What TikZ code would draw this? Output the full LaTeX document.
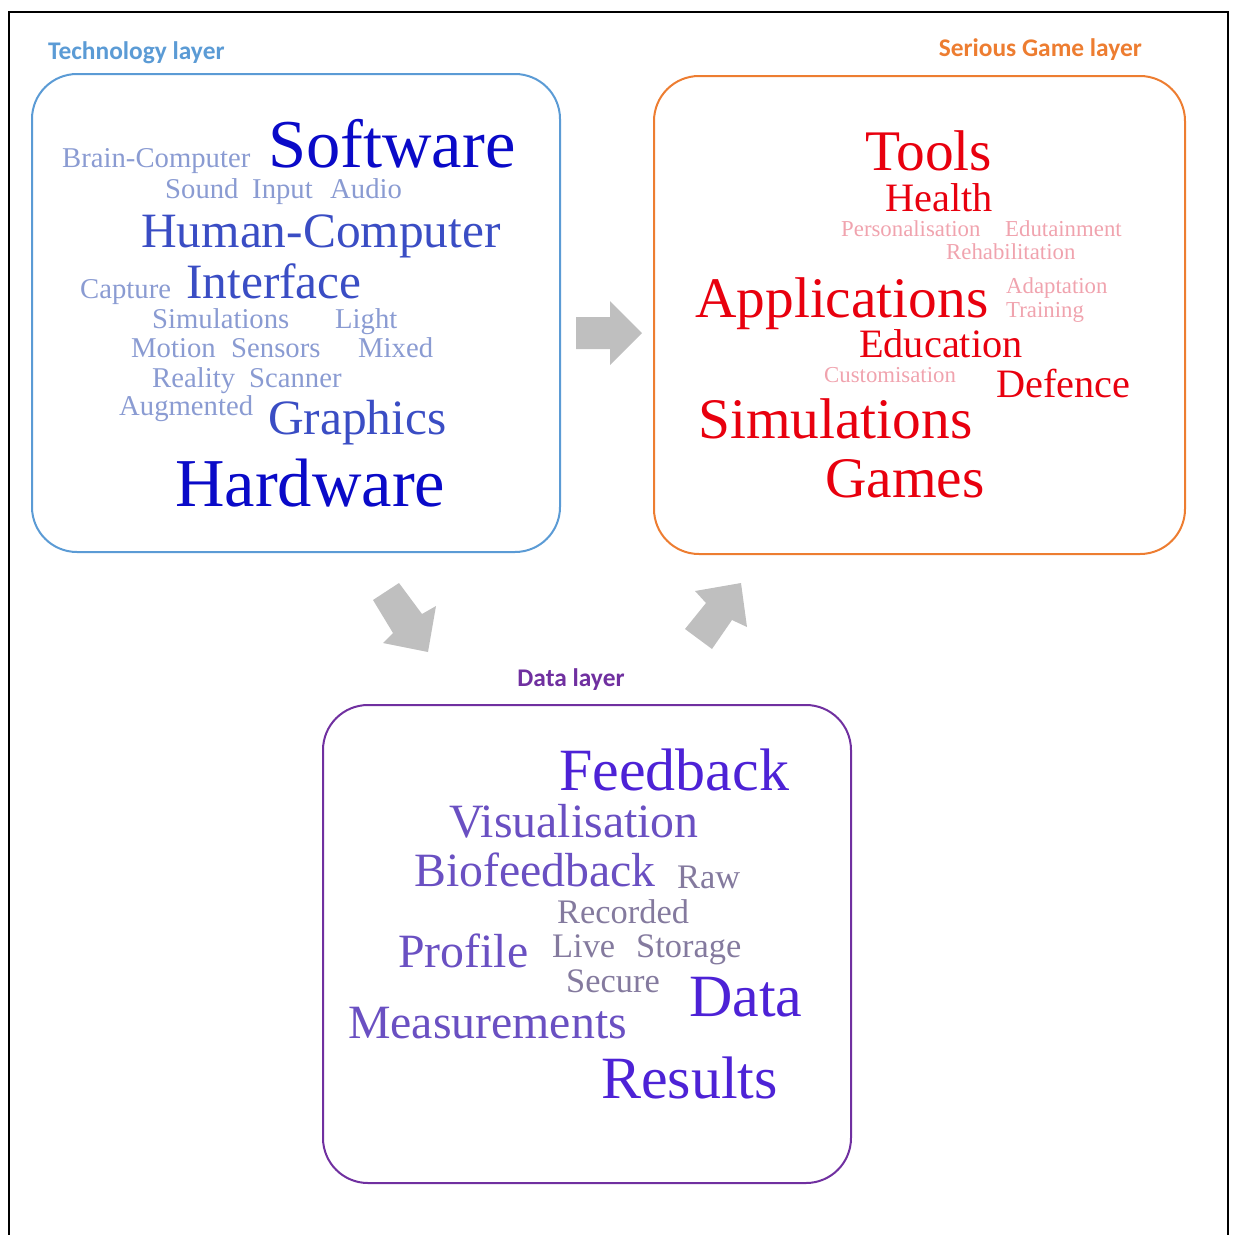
\documentclass[tikz,border=0pt]{standalone}
\usepackage{fontspec}
\setmainfont{Liberation Serif}
\newfontfamily\layerfont{Carlito}
\definecolor{LayerBlue}{HTML}{5B9BD5}
\definecolor{LayerOrange}{HTML}{ED7D31}
\definecolor{LayerPurple}{HTML}{7030A0}
\definecolor{ArrowGrey}{HTML}{BFBFBF}
\definecolor{TechDark}{HTML}{0A0AC8}
\definecolor{TechMid}{HTML}{3A4DC4}
\definecolor{TechLight}{HTML}{8A9BD2}
\definecolor{GameRed}{HTML}{E8000E}
\definecolor{GamePink}{HTML}{F0A3AE}
\definecolor{DataDark}{HTML}{4D22D6}
\definecolor{DataMid}{HTML}{6A50C2}
\definecolor{DataLight}{HTML}{847A9E}
\tikzset{
  layer/box/.style={
    draw, line width=2pt, rounded corners=45pt, anchor=north west,
    inner sep=0pt
  },
  layer/title/.style={
    font=\layerfont\bfseries\fontsize{25.4}{26}\selectfont, inner sep=0pt
  },
  layer/arrow/.style={fill=ArrowGrey},
  word/.style={inner sep=0pt, anchor=base west},
  tech/large/.style={word, text=TechDark, font=\fontsize{68.5}{70}\selectfont},
  tech/mid/.style={word, text=TechMid, font=\fontsize{49.4}{50}\selectfont},
  tech/small/.style={word, text=TechLight, font=\fontsize{28.7}{30}\selectfont},
  game/large/.style={word, text=GameRed, font=\fontsize{57.4}{58}\selectfont},
  game/mid/.style={word, text=GameRed, font=\fontsize{40.3}{41}\selectfont},
  game/small/.style={word, text=GamePink, font=\fontsize{22.8}{23}\selectfont},
  data/large/.style={word, text=DataDark, font=\fontsize{60}{61}\selectfont},
  data/mid/.style={word, text=DataMid, font=\fontsize{47.8}{48}\selectfont},
  data/small/.style={word, text=DataLight, font=\fontsize{34.4}{35}\selectfont}
}

\begin{document}
\begin{tikzpicture}[x=1pt,y=-1pt]
  \useasboundingbox (0,0) rectangle (1235,1235);
  % page frame, open at the bottom
  \draw[line width=2pt] (9,1235) -- (9,12) -- (1228,12) -- (1228,1235);

  % the three layers
  \node[layer/box, draw=LayerBlue, minimum width=528pt, minimum height=478pt]
    (tech) at (31,73) {};
  \node[layer/box, draw=LayerOrange, minimum width=531pt, minimum height=478pt]
    (game) at (653,75) {};
  \node[layer/box, draw=LayerPurple, minimum width=528pt, minimum height=478pt]
    (data) at (322,704) {};
  \node[layer/title, text=LayerBlue, anchor=base west] (tech-title)
    at (48,59) {Technology layer};
  \node[layer/title, text=LayerOrange, anchor=base east] (game-title)
    at (1142,56) {Serious Game layer};
  \node[layer/title, text=LayerPurple, anchor=base] (data-title)
    at (571,686) {Data layer};

  % block arrows
  \fill[layer/arrow] (576,317) -- (610,317) -- (610,301) -- (642,333)
    -- (610,365) -- (610,349) -- (576,349) -- cycle;
  \fill[layer/arrow] (373,600) -- (399,583) -- (422,614) -- (436,606)
    -- (428,652) -- (383,643) -- (393,633) -- cycle;
  \fill[layer/arrow] (685,629) -- (706,603) -- (695,591) -- (741,583)
    -- (747,627) -- (732,620) -- (712,649) -- cycle;

  % technology cloud
  \node[tech/large] (software) at (268,167) {Software};
  \node[tech/large] (hardware) at (175,506) {Hardware};
  \node[tech/mid] (humancomp) at (141,247) {Human-Computer};
  \node[tech/mid] (interface) at (186,298) {Interface};
  \node[tech/mid] (graphics) at (268,434) {Graphics};
  \foreach \n/\x/\y/\w in {brain/62/167/Brain-Computer, sound/165/198/Sound,
      input/252/198/Input, audio/330/198/Audio, capture/80/298/Capture,
      sims/152/328/Simulations, light/335/328/Light, motion/131/357/Motion,
      sensors/231/357/Sensors, mixed/358/357/Mixed, reality/152/387/Reality,
      scanner/249/387/Scanner, augmented/119/415/Augmented}
    \node[tech/small] (tech-\n) at (\x,\y) {\w};

  % serious game cloud
  \node[game/large] (tools) at (865,170) {Tools};
  \node[game/large] (applications) at (695,317) {Applications};
  \node[game/large] (simulations) at (698,438) {Simulations};
  \node[game/large] (games) at (825,497) {Games};
  \node[game/mid] (health) at (885,211) {Health};
  \node[game/mid] (education) at (859,357) {Education};
  \node[game/mid] (defence) at (996,397) {Defence};
  \foreach \n/\x/\y/\w in {person/841/236/Personalisation,
      edutain/1005/236/Edutainment, rehab/946/259/Rehabilitation,
      adapt/1006/293/Adaptation, training/1006/317/Training,
      custom/824/382/Customisation}
    \node[game/small] (game-\n) at (\x,\y) {\w};

  % data cloud
  \node[data/large] (feedback) at (559,790) {Feedback};
  \node[data/large] (datum) at (689,1016) {Data};
  \node[data/large] (results) at (601,1098) {Results};
  \node[data/mid] (visual) at (449,837) {Visualisation};
  \node[data/mid] (biofeed) at (414,886) {Biofeedback};
  \node[data/mid] (profile) at (398,967) {Profile};
  \node[data/mid] (measure) at (348,1038) {Measurements};
  \foreach \n/\x/\y/\w in {raw/677/888/Raw, recorded/557/923/Recorded,
      live/552/957/Live, storage/636/957/Storage, secure/566/992/Secure}
    \node[data/small] (data-\n) at (\x,\y) {\w};
\end{tikzpicture}
\end{document}
